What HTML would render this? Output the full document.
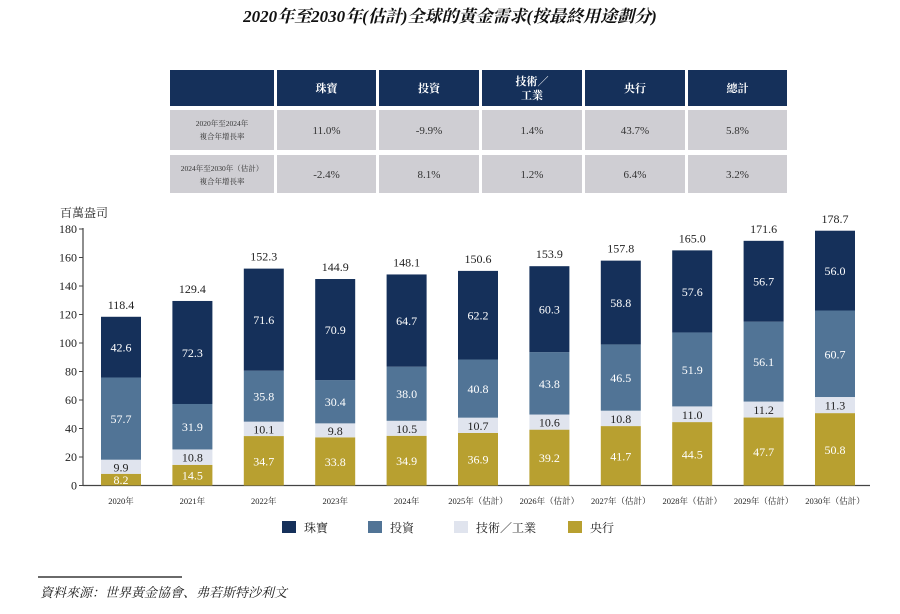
<!DOCTYPE html>
<html><head><meta charset="utf-8">
<style>
body{margin:0;background:#fff;width:900px;height:609px;overflow:hidden;font-family:"Liberation Serif","Noto Serif CJK SC",serif;}
svg text{font-family:"Liberation Serif","Noto Serif CJK SC",serif;}
</style></head><body>
<svg id="c" width="900" height="609">
<text x="450" y="22" text-anchor="middle" font-size="17" font-weight="bold" font-style="italic" fill="#111">2020年至2030年(估計)全球的黃金需求(按最終用途劃分)</text>
<g id="tbl"></g>
<text x="60" y="217" font-size="12" fill="#222">百萬盎司</text>
<g id="axes"></g><g id="bars"></g>
<g id="legend"></g>
<line x1="38" y1="577" x2="182" y2="577" stroke="#111" stroke-width="1.2"/>
<text x="40" y="597" font-size="13" font-style="italic" fill="#222">資料來源：世界黃金協會、弗若斯特沙利文</text>
</svg>
<script>
const categories=["2020年","2021年","2022年","2023年","2024年","2025年（估計）","2026年（估計）","2027年（估計）","2028年（估計）","2029年（估計）","2030年（估計）"];
const centralBank=[8.2,14.5,34.7,33.8,34.9,36.9,39.2,41.7,44.5,47.7,50.8];
const industrial=[9.9,10.8,10.1,9.8,10.5,10.7,10.6,10.8,11.0,11.2,11.3];
const investment=[57.7,31.9,35.8,30.4,38.0,40.8,43.8,46.5,51.9,56.1,60.7];
const jewelry=[42.6,72.3,71.6,70.9,64.7,62.2,60.3,58.8,57.6,56.7,56.0];
const totals=[118.4,129.4,152.3,144.9,148.1,150.6,153.9,157.8,165.0,171.6,178.7];
const yTicks=[0,20,40,60,80,100,120,140,160,180];
const tableHeaders=["珠寶","投資","技術／工業","央行","總計"];
const tableRowLabels=[["2020年至2024年","複合年增長率"],["2024年至2030年（估計）","複合年增長率"]];
const tableRows=[["11.0%","-9.9%","1.4%","43.7%","5.8%"],["-2.4%","8.1%","1.2%","6.4%","3.2%"]];

const NS="http://www.w3.org/2000/svg";
function mk(tag,attrs,parent,txt){const e=document.createElementNS(NS,tag);for(const k in attrs)e.setAttribute(k,attrs[k]);if(txt!==undefined)e.textContent=txt;parent.appendChild(e);return e;}
const y0=485.5,y180=229,yMax=180;
const yS=v=>y0-(v/yMax)*(y0-y180);
const xS=i=>121+i*71.4;
const bw=40;

// table
const tbl=document.getElementById('tbl');
const colX=[170,277,379,482,585,688],colW=[104,99,100,100,100,99];
let r=mk('rect',{x:170,y:70,width:104,height:36,fill:'#15305a'},tbl);

tableHeaders.forEach((h,i)=>{
  const rr=mk('rect',{x:colX[i+1],y:70,width:colW[i+1],height:36,fill:'#15305a'},tbl);
  
  if(h==="技術／工業"){
    const t=mk('text',{x:colX[i+1]+colW[i+1]/2,y:85,'text-anchor':'middle','font-size':11,'font-weight':'bold',fill:'#fff'},tbl,"技術／");
    
    const t2=mk('text',{x:colX[i+1]+colW[i+1]/2,y:99,'text-anchor':'middle','font-size':11,'font-weight':'bold',fill:'#fff'},tbl,"工業");
    
  }else{
    const t=mk('text',{x:colX[i+1]+colW[i+1]/2,y:92,'text-anchor':'middle','font-size':11,'font-weight':'bold',fill:'#fff'},tbl,h);
    
  }
});
const rowY=[110,155],rowH=[40,38];
tableRows.forEach((row,ri)=>{
  const lr=mk('rect',{x:170,y:rowY[ri],width:104,height:rowH[ri],fill:'#cfced3'},tbl);
  
  tableRowLabels[ri].forEach((s,k)=>{
    const t=mk('text',{x:222,y:rowY[ri]+16+k*13,'text-anchor':'middle','font-size':7.5,fill:'#333'},tbl,s);
    
  });
  row.forEach((v,ci)=>{
    const c=mk('rect',{x:colX[ci+1],y:rowY[ri],width:colW[ci+1],height:rowH[ri],fill:'#cfced3'},tbl);
    
    const t=mk('text',{x:colX[ci+1]+colW[ci+1]/2,y:rowY[ri]+rowH[ri]/2+4,'text-anchor':'middle','font-size':11,fill:'#333'},tbl,v);
    
  });
});

// axes
const ax=document.getElementById('axes');
let l=mk('line',{x1:83,y1:y180-1,x2:83,y2:y0,stroke:'#444','stroke-width':1.2},ax);

l=mk('line',{x1:83,y1:y0,x2:870,y2:y0,stroke:'#444','stroke-width':1.2},ax);

yTicks.forEach(v=>{
  const tk=mk('line',{x1:79,y1:yS(v),x2:83,y2:yS(v),stroke:'#444'},ax);
  
  const t=mk('text',{x:77,y:yS(v)+4,'text-anchor':'end','font-size':12,fill:'#222'},ax,v);
  
});

// bars
const bg=document.getElementById('bars');
const series=[[centralBank,'#b8a030','#fff','central-bank'],[industrial,'#e0e4ee','#222','industrial'],[investment,'#517496','#fff','investment'],[jewelry,'#15305a','#fff','jewelry']];
categories.forEach((c,i)=>{
  let acc=0;const cx=xS(i);
  series.forEach(([arr,col,tc,nm])=>{
    const v=arr[i];const yt=yS(acc+v),yb=yS(acc);
    const b=mk('rect',{x:cx-bw/2,y:yt,width:bw,height:yb-yt,fill:col},bg);
    
    const t=mk('text',{x:cx,y:(yt+yb)/2+4.5,'text-anchor':'middle','font-size':12,fill:tc},bg,v.toFixed(1));
    
    acc+=v;
  });
  const tt=mk('text',{x:cx,y:yS(totals[i])-8,'text-anchor':'middle','font-size':12,fill:'#222'},bg,totals[i].toFixed(1));
  
  const xl=mk('text',{x:cx,y:504,'text-anchor':'middle','font-size':8.5,fill:'#222'},bg,c);
  
});

// legend
const lg=document.getElementById('legend');
const legItems=[['珠寶','#15305a',282],['投資','#517496',368],['技術／工業','#e0e4ee',454],['央行','#b8a030',568]];
legItems.forEach(([n,c,x])=>{
  const s=mk('rect',{x:x,y:521,width:14,height:12,fill:c},lg);
  
  const t=mk('text',{x:x+22,y:532,'font-size':12,fill:'#222'},lg,n);
  
});
</script>
</body></html>
